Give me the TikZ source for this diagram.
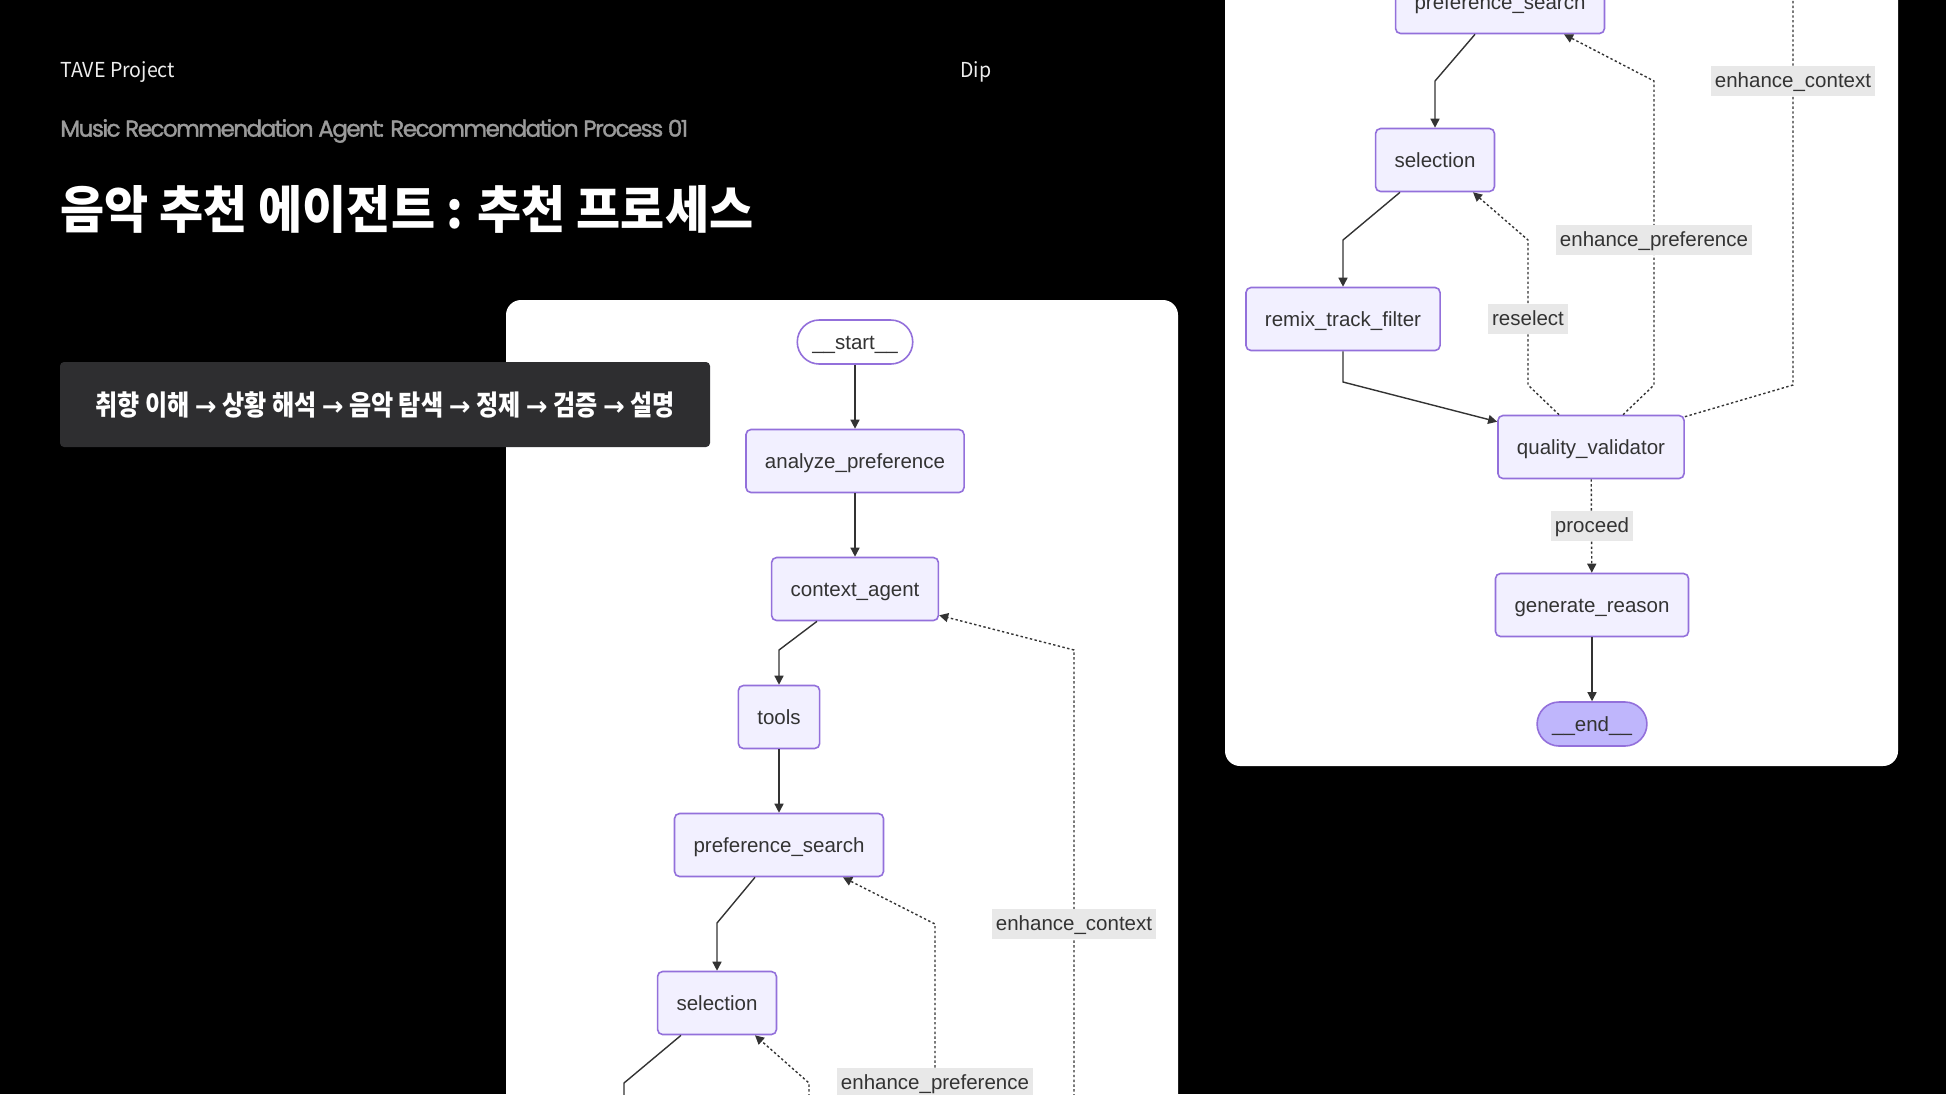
\documentclass[tikz,border=0pt]{standalone}
\usepackage{fontspec}
\setmainfont{Liberation Sans}
\newfontfamily\krtitle{Noto Sans CJK KR}[FakeStretch=0.94]
\newfontfamily\krbox{Noto Sans CJK KR}[FakeStretch=0.86]
\newfontfamily\arrfont{DejaVu Sans}
\newfontfamily\krhead{Noto Sans CJK KR}[FakeStretch=0.95]
\newfontfamily\popfont{Poppins}[LetterSpace=-6.5,FakeBold=1.5]
\usetikzlibrary{arrows.meta}
\definecolor{nodefill}{HTML}{F2F0FF}
\definecolor{nodeborder}{HTML}{9370DB}
\definecolor{endfill}{HTML}{BFB6FC}
\definecolor{txt}{HTML}{333333}
\definecolor{edgec}{HTML}{333333}
\definecolor{lblfill}{HTML}{E8E8E8}
\definecolor{darkbox}{HTML}{2E2E30}
\definecolor{subgray}{HTML}{9A9A9A}
\definecolor{headwhite}{HTML}{EDEDED}
\newcommand\nodefont{\fontsize{10.25pt}{12pt}\selectfont}
\newcommand\arr{{\arrfont\bfseries\fontsize{13pt}{16pt}\selectfont →}}
\begin{document}
\begin{tikzpicture}[x=0.5pt,y=-0.5pt,
  nd/.style={draw=nodeborder, fill=nodefill, line width=0.8pt, rounded corners=2.5pt,
    minimum height=31.5pt, inner xsep=9.5pt, inner ysep=0pt, text height=9.5pt, text depth=2pt,
    text=txt, font=\nodefont},
  term/.style={nd, rounded corners=11pt, minimum height=22pt, inner xsep=7.5pt},
  edge/.style={draw=edgec, line width=0.7pt, -{Triangle[length=4.5pt,width=4.5pt]}},
  plain/.style={draw=edgec, line width=0.7pt},
  cond/.style={edge, dash pattern=on 1.2pt off 1.2pt},
  lbl/.style={fill=lblfill, text=txt, font=\nodefont, inner xsep=2pt, inner ysep=0pt,
    minimum height=15pt, text height=8.5pt, text depth=2pt},
  panel/.style={fill=white, rounded corners=7.5pt},
]
\fill[black] (0,0) rectangle (1946,1094);
\useasboundingbox (0,0) rectangle (1946,1094);
\begin{scope}
\clip (0,0) rectangle (1946,1094);

% header texts
\node[anchor=west, text=headwhite, inner sep=0pt, font=\krhead\fontsize{10.3pt}{12pt}\selectfont] (tave) at (60,72) {TAVE Project};
\node[anchor=west, text=headwhite, inner sep=0pt, font=\krhead\fontsize{10.3pt}{12pt}\selectfont] (dip) at (960,72) {Dip};
\node[anchor=west, text=subgray, inner sep=0pt, font=\popfont\fontsize{11.5pt}{13pt}\selectfont] (sub) at (60,131) {Music Recommendation Agent: Recommendation Process 01};
\node[anchor=west, text=white, inner sep=0pt, font=\krtitle\bfseries\fontsize{25.5pt}{30pt}\selectfont] (title) at (60,209) {음악 추천 에이전트 : 추천 프로세스};

% panels
\fill[panel] (506,300) rectangle (1178,1150);
\fill[panel] (1225,-60) rectangle (1898,766);

% dark box
\fill[darkbox, rounded corners=2pt] (60,362) rectangle (710,447);
\node[text=white, inner sep=0pt, font=\krbox\bfseries\fontsize{14pt}{16pt}\selectfont] (flow) at (385,405) {취향 이해 \arr{} 상황 해석 \arr{} 음악 탐색 \arr{} 정제 \arr{} 검증 \arr{} 설명};

% ---------- panel 1 ----------
\node[term, fill=white] (start) at (855,342) {\_\_start\_\_};
\node[nd] (analyze) at (855,461) {analyze\_preference};
\node[nd] (context) at (855,589) {context\_agent};
\node[nd] (tools) at (779,717) {tools};
\node[nd] (psA) at (779,845) {preference\_search};
\node[nd] (selA) at (717,1003) {selection};

\coordinate (remixA) at (624,1130);
\coordinate (qvA) at (809,1130);
\coordinate (epA) at (935,1130);
\coordinate (ecA) at (1074,1130);

\draw[edge] (start) -- (analyze);
\draw[edge] (analyze) -- (context);
\draw[edge] ([xshift=-19pt]context.south) -- (tools.north |- 0,650) -- (tools.north);
\draw[edge] (tools) -- (psA);
\draw[edge] ([xshift=-12pt]psA.south) -- (selA.north |- 0,923) -- (selA.north);
\draw[plain] ([xshift=-18pt]selA.south) -- (remixA |- 0,1083) -- (remixA);
\draw[cond] (qvA) -- (qvA |- 0,1083) -- ([xshift=19pt]selA.south);
\draw[cond] (epA) -- (epA |- 0,924) -- ([xshift=32pt]psA.south);
\draw[cond] (ecA) -- (ecA |- 0,650) -- ([yshift=3pt]context.south east);
\node[lbl] (lepA) at (935,1083) {enhance\_preference};
\node[lbl] (lecA) at (1074,924) {enhance\_context};

% ---------- panel 2 ----------
\node[nd] (psB) at (1500,2) {preference\_search};
\node[nd] (selB) at (1435,160) {selection};
\node[nd] (remix) at (1343,319) {remix\_track\_filter};
\node[nd] (qv) at (1591,447) {quality\_validator};
\node[nd] (gen) at (1592,605) {generate\_reason};
\node[term, fill=endfill] (finish) at (1592,724) {\_\_end\_\_};

\coordinate (ecB) at (1793,-60);

\draw[edge] ([xshift=-12.5pt]psB.south) -- (selB.north |- 0,81) -- (selB.north);
\draw[edge] ([xshift=-17.5pt]selB.south) -- (remix.north |- 0,240) -- (remix.north);
\draw[edge] (remix.south) -- (remix.south |- 0,382) -- ([yshift=-3.5pt]qv.north west);
\draw[cond] ([xshift=-16pt]qv.north) -- (1528,385) -- (1528,240) -- ([xshift=19pt]selB.south);
\draw[cond] ([xshift=16pt]qv.north) -- (1654,385) -- (1654,81) -- ([xshift=32pt]psB.south);
\draw[cond, -] ([yshift=-1pt]qv.north east) -- (1793,385) -- (ecB);
\draw[cond] (qv) -- (gen);
\draw[edge] (gen) -- (finish);
\node[lbl] (lres) at (1528,319) {reselect};
\node[lbl] (lepB) at (1654,240) {enhance\_preference};
\node[lbl] (lecB) at (1793,81) {enhance\_context};
\node[lbl] (lpro) at (1592,526) {proceed};
\end{scope}
\end{tikzpicture}
\end{document}
